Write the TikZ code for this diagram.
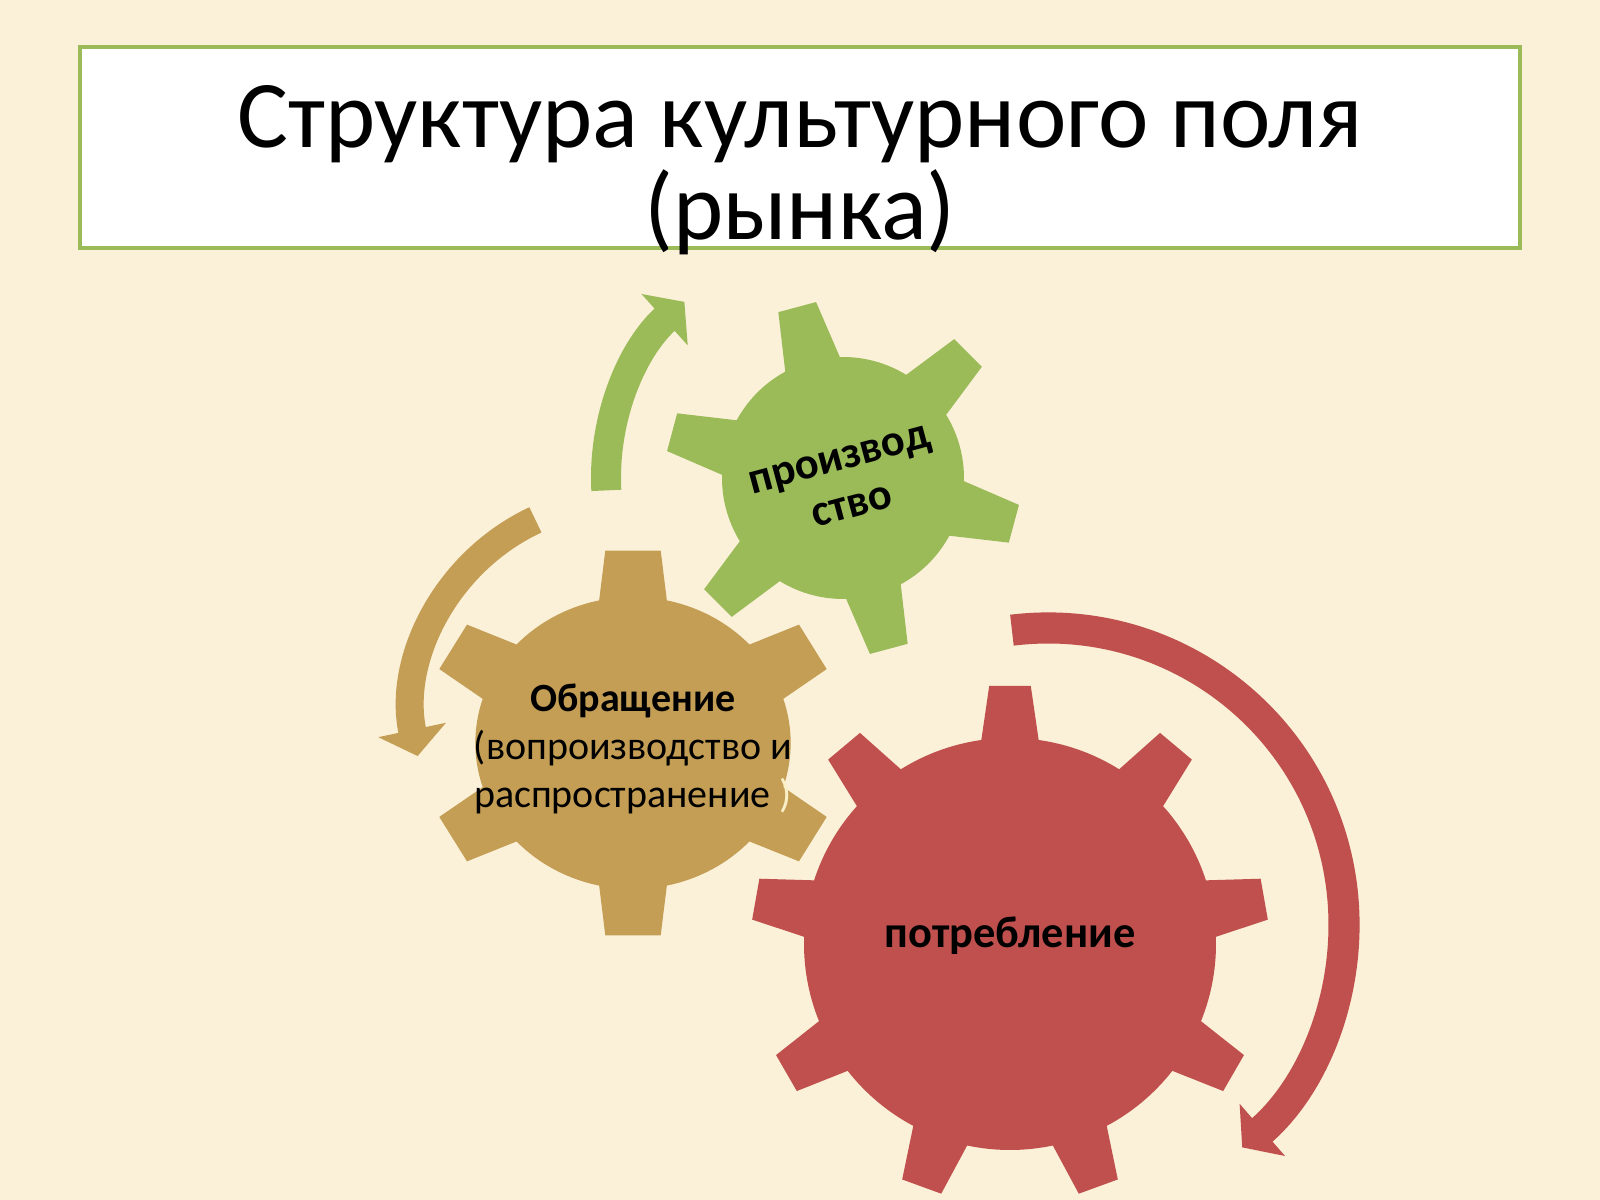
\documentclass[tikz,border=0pt]{standalone}
\usepackage{fontspec}
\setmainfont{Carlito}
\usetikzlibrary{arrows.meta}
\definecolor{bgcream}{RGB}{251,240,216}
\definecolor{prodgreen}{RGB}{155,187,89}
\definecolor{circbrown}{RGB}{196,158,84}
\definecolor{consred}{RGB}{192,80,77}
\definecolor{palecream}{RGB}{250,240,200}

\begin{document}
\begin{tikzpicture}[x=0.45pt,y=0.45pt]

%
% Styles
%
\tikzstyle{titlebox} = [draw=prodgreen,line width=1.4pt,fill=white]
\tikzstyle{titletext} = [font=\fontsize{43}{41.5}\selectfont,align=center,inner sep=0pt]
\tikzstyle{geartext} = [font=\bfseries\fontsize{20}{22}\selectfont,align=center,inner sep=0pt]
\tikzstyle{circtext} = [font=\fontsize{18}{21.6}\selectfont,align=center,inner sep=0pt]
\tikzstyle{cyclearrow} = [line width=13.5pt,-{Triangle[length=12pt,width=30.5pt]}]

\fill[bgcream] (0,0) rectangle (1600,1200);

% title
\draw[titlebox] (80,1153) rectangle (1520,952);
\node[titletext,anchor=base] (title) at (800,960) {Структура культурного поля\\(рынка)};

% gear centres
\coordinate (gprod) at (843,722);
\coordinate (gcirc) at (633,457);
\coordinate (gcons) at (1010,256);

% arrows
\draw[cyclearrow,prodgreen] (gprod) ++(183:237) arc[start angle=183,end angle=132,radius=237];
\draw[cyclearrow,circbrown,line width=12.6pt] (625,488) ++(115:212) arc[start angle=115,end angle=192,radius=212];
\draw[cyclearrow,consred,line width=14pt] (1048,276) ++(97:296) arc[start angle=97,end angle=-49,radius=296];

% gears
\fill[prodgreen,shift={(gprod)}] (31.5:121) \foreach \a in {45,105,...,345} {
  -- ({\a-13.5}:121) -- ({\a-6.3}:178) -- ({\a+6.3}:178) -- ({\a+13.5}:121)
  arc[start angle=\a+13.5,end angle=\a+46.5,radius=121] } -- cycle;
\fill[circbrown,shift={(gcirc)},xscale=1.08] (77.6:146) \foreach \a in {90,150,...,420} {
  -- ({\a-12.4}:146) -- ({\a-7.6}:194) -- ({\a+7.6}:194) -- ({\a+12.4}:146)
  arc[start angle=\a+12.4,end angle=\a+47.6,radius=146] } -- cycle;
\fill[consred,shift={(gcons)}] (82.3:206) \foreach \a in {90,130,...,410} {
  -- ({\a-8}:206) -- ({\a-4.6}:259) -- ({\a+4.6}:259) -- ({\a+8}:206)
  arc[start angle=\a+8,end angle=\a+32,radius=206] } -- cycle;

% labels
\node[geartext,rotate=15] (prod) at (846,717) {производ\\ство};
\node[circtext,anchor=base] (circ) at (633,392) {\textbf{Обращение}\\(вопроизводство и\\распространение \textcolor{palecream}{)}};
\node[geartext,anchor=base] (cons) at (1010,252) {потребление};

\end{tikzpicture}
\end{document}
